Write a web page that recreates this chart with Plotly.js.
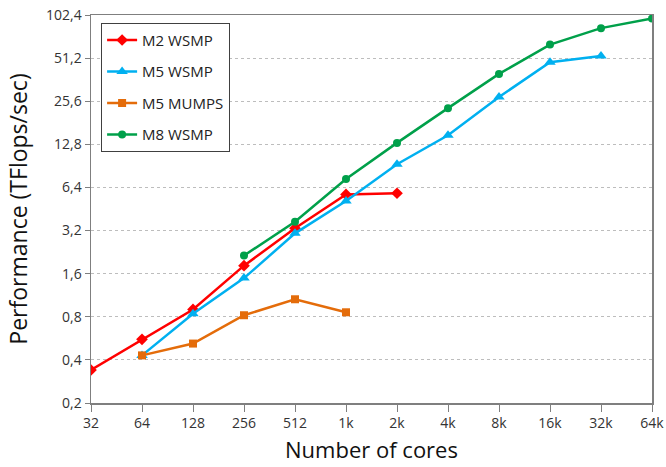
<!DOCTYPE html>
<html>
<head>
<meta charset="utf-8">
<script src="https://cdn.plot.ly/plotly-3.0.1.min.js"></script>
<style>html,body{margin:0;padding:0;background:#fff;}#chart{width:666px;height:467px;}</style>
</head>
<body>
<div id="chart"></div>
<script>
const cores = [32, 64, 128, 256, 512, 1024, 2048, 4096, 8192, 16384, 32768, 65536];
const coreLabels = ["32", "64", "128", "256", "512", "1k", "2k", "4k", "8k", "16k", "32k", "64k"];
const perfTicks = [0.2, 0.4, 0.8, 1.6, 3.2, 6.4, 12.8, 25.6, 51.2, 102.4];
const perfTickLabels = ["0,2", "0,4", "0,8", "1,6", "3,2", "6,4", "12,8", "25,6", "51,2", "102,4"];

const m2wsmpCores = [32, 64, 128, 256, 512, 1024, 2048];
const m2wsmp = [0.34, 0.557, 0.90, 1.82, 3.32, 5.72, 5.83];

const m5wsmpCores = [64, 128, 256, 512, 1024, 2048, 4096, 8192, 16384, 32768];
const m5wsmp = [0.43, 0.84, 1.49, 3.06, 5.15, 9.3, 14.8, 27.4, 47.9, 53.0];

const m5mumpsCores = [64, 128, 256, 512, 1024];
const m5mumps = [0.43, 0.52, 0.82, 1.06, 0.86];

const m8wsmpCores = [256, 512, 1024, 2048, 4096, 8192, 16384, 32768, 65536];
const m8wsmp = [2.14, 3.69, 7.34, 13.1, 22.9, 39.7, 63.6, 82.9, 96.7];

const font = "Open Sans, Liberation Sans, sans-serif";

const traces = [
  {x: m2wsmpCores, y: m2wsmp, name: "M2 WSMP", legendgroup: "a", mode: "lines+markers",
   line: {color: "#FF0000", width: 2.5}, marker: {symbol: "diamond", size: 9, color: "#FF0000"}},
  {x: m5wsmpCores, y: m5wsmp, name: "M5 WSMP", legendgroup: "b", mode: "lines+markers",
   line: {color: "#00B0F0", width: 2.5}, marker: {symbol: "triangle-up", size: 10, color: "#00B0F0"}},
  {x: m5mumpsCores, y: m5mumps, name: "M5 MUMPS", legendgroup: "c", mode: "lines+markers",
   line: {color: "#E46C0A", width: 2.5}, marker: {symbol: "square", size: 8, color: "#E46C0A"}},
  {x: m8wsmpCores, y: m8wsmp, name: "M8 WSMP", legendgroup: "d", mode: "lines+markers",
   line: {color: "#00A04A", width: 2.5}, marker: {symbol: "circle", size: 8, color: "#00A04A"}}
];

const layout = {
  width: 666, height: 467,
  margin: {l: 91, r: 14, t: 15, b: 64},
  paper_bgcolor: "#fff", plot_bgcolor: "#fff",
  font: {family: font, color: "#333", size: 14},
  showlegend: true,
  legend: {x: 0.018, y: 0.98, xanchor: "left", yanchor: "top",
           bordercolor: "#404040", borderwidth: 1, bgcolor: "#fff",
           font: {family: font, size: 15, color: "#222"},
           traceorder: "grouped", tracegroupgap: 9, itemwidth: 30},
  xaxis: {type: "log", range: [Math.log10(32), Math.log10(65536)],
          tickvals: cores, ticktext: coreLabels,
          showgrid: false, zeroline: false,
          showline: true, linecolor: "#7f7f7f", linewidth: 1.5, mirror: true,
          ticks: "outside", ticklen: 7, tickcolor: "#7f7f7f",
          tickfont: {family: font, size: 14, color: "#333"},
          title: {text: "Number of cores", font: {family: font, size: 22, color: "#111"}, standoff: 11}},
  yaxis: {type: "log", range: [Math.log10(0.2), Math.log10(102.4)],
          tickvals: perfTicks, ticktext: perfTickLabels,
          showgrid: true, gridcolor: "#BDBDBD", griddash: "dot", gridwidth: 1,
          zeroline: false,
          showline: true, linecolor: "#7f7f7f", linewidth: 1.5, mirror: true,
          ticks: "outside", ticklen: 5, tickcolor: "#7f7f7f",
          tickfont: {family: font, size: 14, color: "#333"},
          title: {text: "Performance (TFlops/sec)", font: {family: font, size: 23, color: "#111"}, standoff: 12}}
};

Plotly.newPlot("chart", traces, layout, {displayModeBar: false, staticPlot: true});
</script>
</body>
</html>
